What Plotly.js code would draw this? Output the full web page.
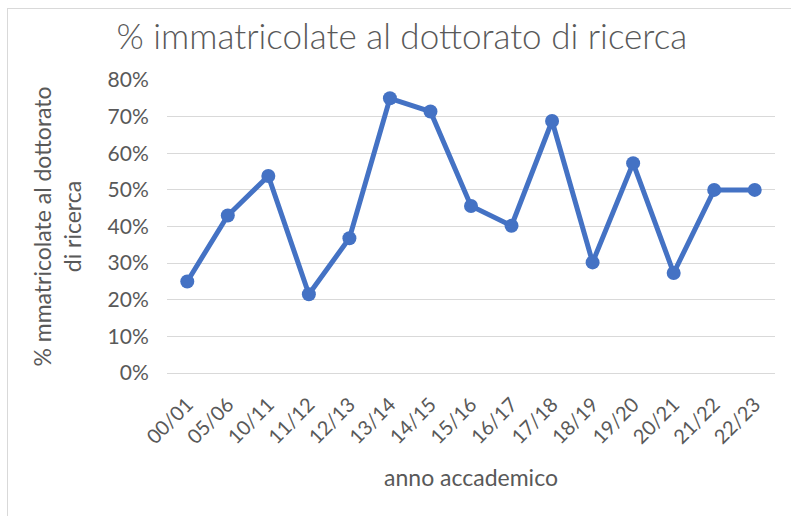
<!DOCTYPE html>
<html><head><meta charset="utf-8">
<script src="https://cdn.plot.ly/plotly-3.0.1.min.js"></script>
<style>
html,body{margin:0;padding:0;background:#fff;}
#frame{position:absolute;left:7px;top:8px;width:784px;height:508px;border-left:1px solid #d9d9d9;border-top:1px solid #d9d9d9;box-sizing:border-box;}
#chart{position:absolute;left:0;top:0;width:791px;height:516px;}
</style></head>
<body>
<div id="frame"></div>
<div id="chart"></div>
<script>
const categories = ["00/01","05/06","10/11","11/12","12/13","13/14","14/15","15/16","16/17","17/18","18/19","19/20","20/21","21/22","22/23"];
const values = [0.25,0.43,0.538,0.215,0.368,0.75,0.714,0.456,0.402,0.688,0.302,0.573,0.273,0.50,0.50];
const yTicks = [0,0.1,0.2,0.3,0.4,0.5,0.6,0.7,0.8];
const yTickLabels = ["0%","10%","20%","30%","40%","50%","60%","70%","80%"];

const font = "Lato, 'Open Sans', sans-serif";
const grey = "#595959";

Plotly.newPlot("chart", [{
  x: categories, y: values, type: "scatter", mode: "lines+markers",
  line: {color: "#4472C4", width: 5},
  marker: {color: "#4472C4", size: 14},
  hoverinfo: "skip"
}], {
  width: 791, height: 516,
  paper_bgcolor: "rgba(0,0,0,0)", plot_bgcolor: "rgba(0,0,0,0)",
  margin: {l: 167, r: 16, t: 80, b: 143},
  showlegend: false,
  title: {text: "% immatricolate al dottorato di ricerca", font: {family: font, size: 35, color: grey, weight: 300}, x: 0.508, xanchor: "center", y: 0.928, yanchor: "middle"},
  xaxis: {
    type: "category", range: [-0.5, 14.5], tickangle: -45, tickfont: {family: font, size: 20, color: grey},
    showgrid: false, showline: true, linecolor: "#d9d9d9", linewidth: 1, zeroline: false,
    ticks: "outside", ticklen: 11, tickcolor: "rgba(0,0,0,0)",
    title: {text: "anno accademico", font: {family: font, size: 23, color: grey}, standoff: 22},
    automargin: false, fixedrange: true
  },
  yaxis: {
    range: [0, 0.8], tickvals: yTicks, ticktext: yTickLabels,
    tickfont: {family: font, size: 21, color: grey},
    showgrid: true, gridcolor: "#d9d9d9", gridwidth: 1, zeroline: false, showline: false,
    ticks: "outside", ticklen: 13, tickcolor: "rgba(0,0,0,0)",
    title: {text: "% mmatricolate al dottorato<br>di ricerca", font: {family: font, size: 23, color: grey}, standoff: 19},
    automargin: false, fixedrange: true
  }
}, {displayModeBar: false, staticPlot: true});
</script>
</body></html>
